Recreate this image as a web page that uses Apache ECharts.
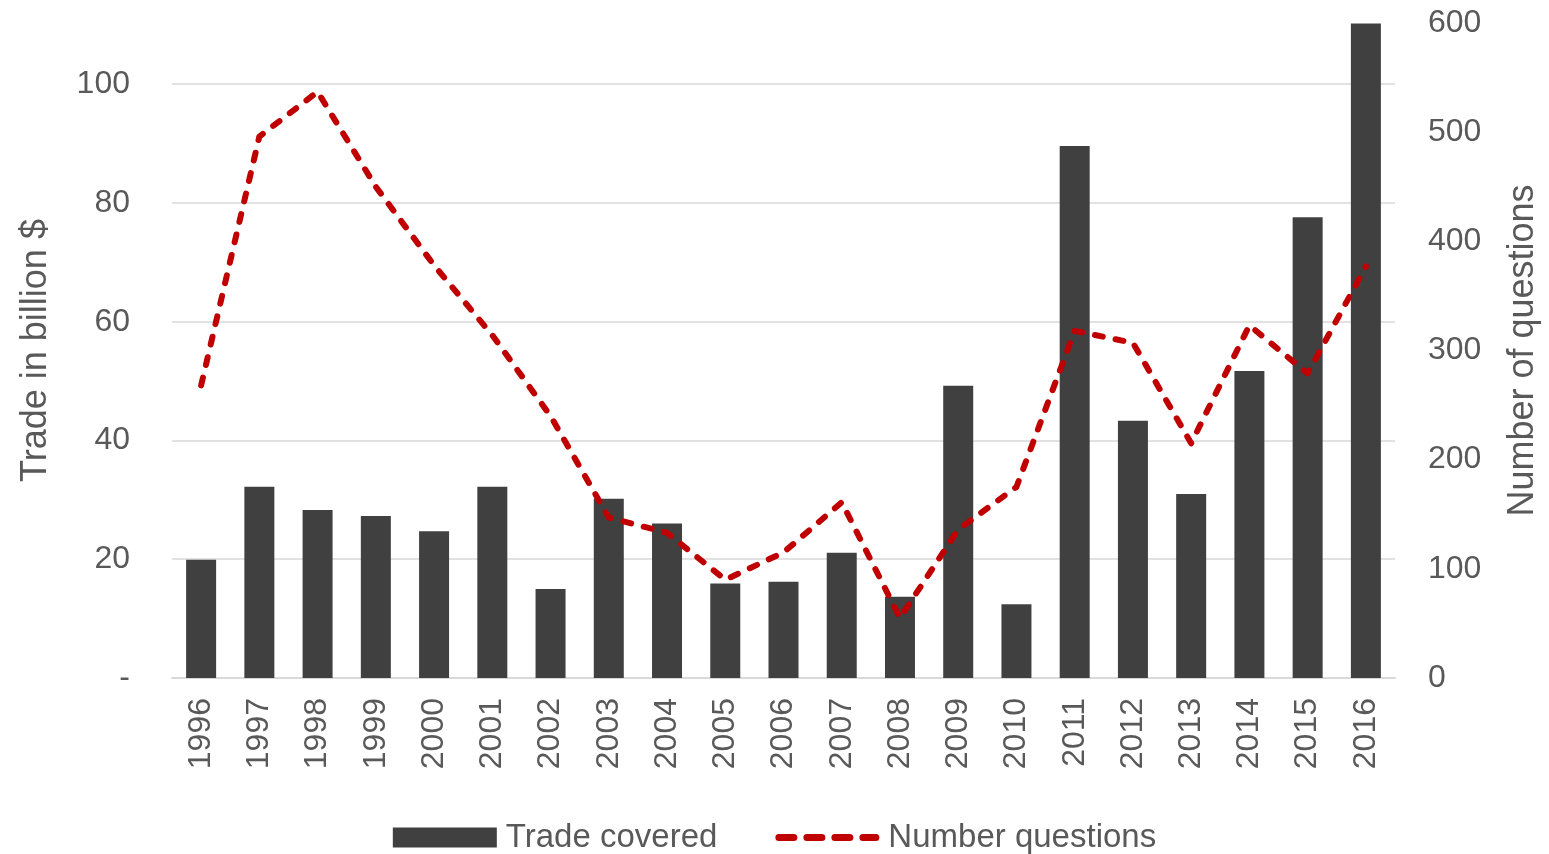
<!DOCTYPE html>
<html lang="en">
<head>
    <meta charset="UTF-8">
    <title>Trade covered and number of questions</title>
    <script src="https://cdn.jsdelivr.net/npm/echarts@6/dist/echarts.min.js"></script>
    <style>
        html, body { margin: 0; padding: 0; background: #fff; }
        #main { width: 1549px; height: 854px; }
    </style>
</head>
<body>
    <div id="main"></div>
    <script>
        // data
        var years = ['1996', '1997', '1998', '1999', '2000', '2001', '2002', '2003', '2004', '2005', '2006',
                     '2007', '2008', '2009', '2010', '2011', '2012', '2013', '2014', '2015', '2016'];
        var tradeCovered = [19.9, 32.2, 28.3, 27.3, 24.7, 32.2, 15.0, 30.2, 26.0, 15.9, 16.2,
                            21.1, 13.7, 49.2, 12.4, 89.6, 43.3, 31.0, 51.7, 77.6, 110.2];
        var numberQuestions = [268, 496, 537, 450, 378, 314, 240, 147, 133, 90, 115,
                               161, 55, 136, 175, 318, 307, 215, 323, 279, 377];
        var leftGridLines = [20, 40, 60, 80, 100];

        var gray = '#595959';
        var font = 'Liberation Sans';

        // four rounded dashes for the line's legend key
        var dashIcon = 'path://M3.5,0h15a3.5,3.5 0 0 1 0,7h-15a3.5,3.5 0 0 1 0,-7z' +
            'M31.5,0h15a3.5,3.5 0 0 1 0,7h-15a3.5,3.5 0 0 1 0,-7z' +
            'M59.5,0h15a3.5,3.5 0 0 1 0,7h-15a3.5,3.5 0 0 1 0,-7z' +
            'M87.5,0h13a3.5,3.5 0 0 1 0,7h-13a3.5,3.5 0 0 1 0,-7z';

        var myChart = echarts.init(document.getElementById('main'));
        var option = {
            animation: false,
            textStyle: { fontFamily: font },
            grid: { left: 172, right: 154, top: 23, bottom: 176 },
            legend: {
                top: 816,
                left: 'center',
                itemWidth: 104,
                itemHeight: 20,
                itemGap: 58,
                symbolKeepAspect: true,
                textStyle: { fontSize: 33, color: gray, fontFamily: font, padding: [0, 0, 0, 4] },
                data: [
                    { name: 'Trade covered', icon: 'rect' },
                    { name: 'Number questions', icon: dashIcon }
                ]
            },
            xAxis: {
                type: 'category',
                data: years,
                axisTick: { show: false },
                axisLine: { lineStyle: { color: '#d9d9d9', width: 2 } },
                axisLabel: { rotate: 90, fontSize: 32, color: gray, margin: 20 }
            },
            yAxis: [{
                type: 'value',
                min: 0,
                max: 110.3,
                interval: 20,
                name: 'Trade in billion $',
                nameLocation: 'middle',
                nameGap: 118,
                nameTextStyle: { fontSize: 36, color: gray },
                axisLine: { show: false },
                axisTick: { show: false },
                splitLine: { show: false },
                axisLabel: {
                    fontSize: 32, color: gray, margin: 42, showMaxLabel: false,
                    formatter: function (v) { return v === 0 ? '-' : v; }
                }
            }, {
                type: 'value',
                min: 0,
                max: 600,
                interval: 100,
                name: 'Number of questions',
                nameLocation: 'middle',
                nameGap: 110,
                nameTextStyle: { fontSize: 36, color: gray },
                axisLine: { show: false },
                axisTick: { show: false },
                splitLine: { show: false },
                axisLabel: { fontSize: 32, color: gray, margin: 33 }
            }],
            series: [{
                name: 'Trade covered',
                type: 'bar',
                yAxisIndex: 0,
                barWidth: 30,
                z: 2,
                itemStyle: { color: '#404040' },
                data: tradeCovered,
                markLine: {
                    silent: true,
                    z: 1,
                    symbol: 'none',
                    label: { show: false },
                    lineStyle: { color: '#d9d9d9', type: 'solid', width: 1.5 },
                    data: leftGridLines.map(function (v) { return { yAxis: v }; })
                }
            }, {
                name: 'Number questions',
                type: 'line',
                yAxisIndex: 1,
                symbol: 'none',
                z: 3,
                lineStyle: { color: '#c00000', width: 6, type: [8, 13], cap: 'round', join: 'round' },
                itemStyle: { color: '#c00000' },
                data: numberQuestions
            }]
        };
        myChart.setOption(option);
    </script>
</body>
</html>
